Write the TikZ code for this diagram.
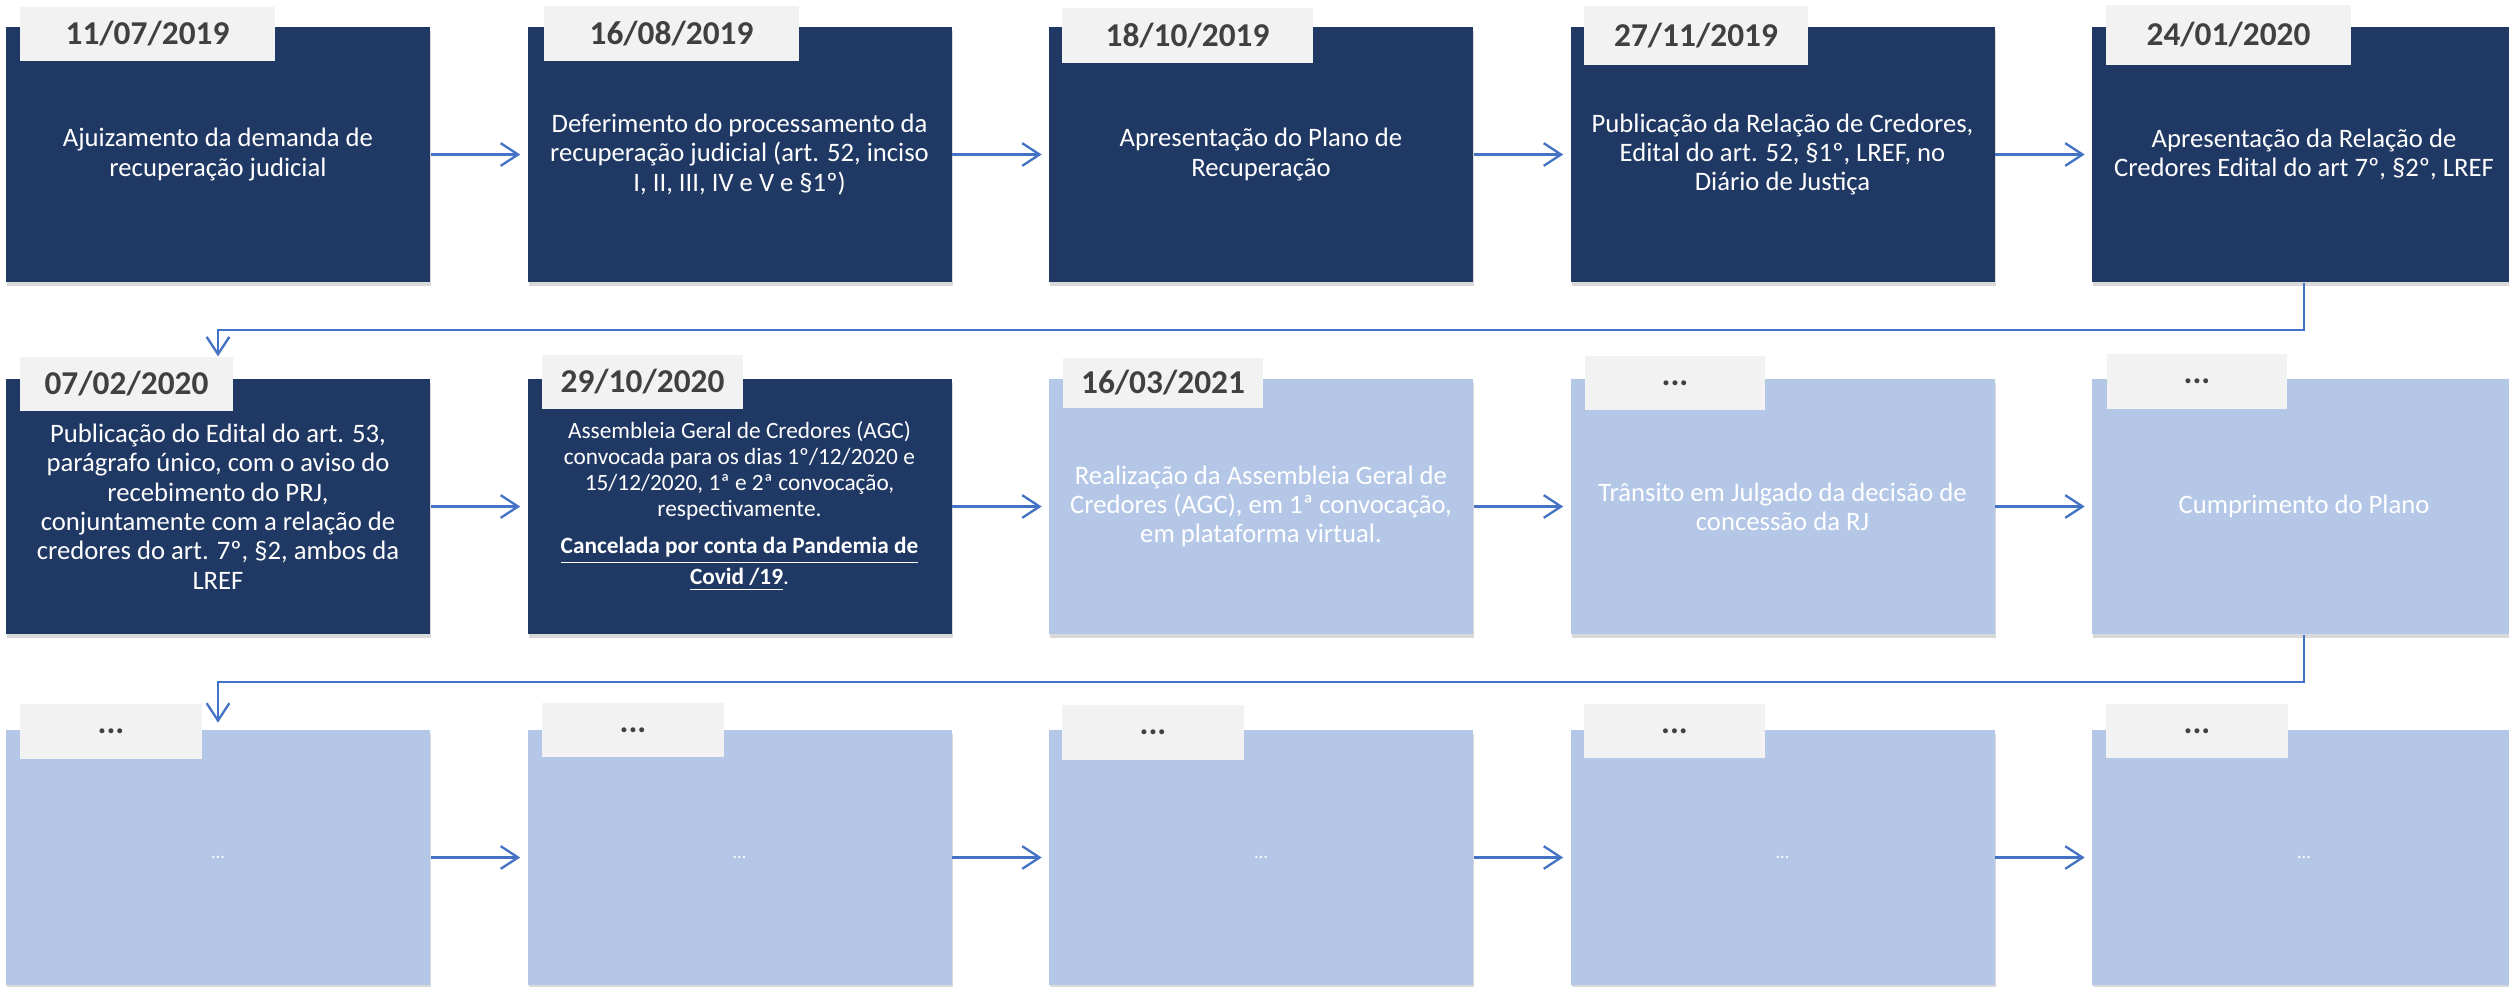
\documentclass[tikz,border=0pt]{standalone}
\usepackage{fontspec}
\setmainfont{Carlito}
\usetikzlibrary{arrows.meta,shadows}
\definecolor{navy}{HTML}{203864}
\definecolor{lightb}{HTML}{B4C7E7}
\definecolor{tabgray}{HTML}{F2F2F2}
\definecolor{tabtext}{HTML}{404040}
\definecolor{flowc}{HTML}{4472C4}
\tikzset{
  card/.style={rectangle, inner sep=0pt, minimum width=127.2pt, minimum height=76.5pt,
     align=center, text=white, font=\fontsize{8pt}{8.8pt}\selectfont,
     drop shadow={opacity=0.3, shadow xshift=0.4pt, shadow yshift=-1.3pt}},
  darkcard/.style={card, fill=navy},
  lightcard/.style={card, fill=lightb},
  dotcard/.style={lightcard, font=\fontsize{5.5pt}{6pt}\selectfont},
  datetab/.style={rectangle, inner sep=0pt, fill=tabgray, text=tabtext,
     font=\fontsize{10pt}{12pt}\selectfont\bfseries, minimum height=16.3pt},
  flow/.style={draw=flowc, line width=0.75pt, -{Straight Barb[length=5.2pt, width=6.8pt, line width=0.7pt]}}
}
\begin{document}
\begin{tikzpicture}[x=0.3pt, y=-0.3pt]
\useasboundingbox (0,0) rectangle (2509,986);
% ---- row 1
\node[darkcard] (r1c1) at (218,154.5) {Ajuizamento da demanda de\\recuperação judicial};
\node[darkcard] (r1c2) at (739.5,154.5) {Deferimento do processamento da\\recuperação judicial (art. 52, inciso\\I, II, III, IV e V e §1º)};
\node[darkcard] (r1c3) at (1261,154.5) {Apresentação do Plano de\\Recuperação};
\node[darkcard] (r1c4) at (1782.5,154.5) {Publicação da Relação de Credores,\\Edital do art. 52, §1º, LREF, no\\Diário de Justiça};
\node[darkcard] (r1c5) at (2304,154.5) {Apresentação da Relação de\\Credores Edital do art 7º, §2º, LREF};
% ---- row 2
\node[darkcard] (r2c1) at (218,506.5) {Publicação do Edital do art. 53,\\parágrafo único, com o aviso do\\recebimento do PRJ,\\conjuntamente com a relação de\\credores do art. 7º, §2, ambos da\\LREF};
\node[darkcard, font=\fontsize{7pt}{7.8pt}\selectfont] (r2c2) at (739.5,506.5) {Assembleia Geral de Credores (AGC)\\convocada para os dias 1º/12/2020 e\\15/12/2020, 1ª e 2ª convocação,\\respectivamente.\\[3.5pt]\underline{\textbf{Cancelada por conta da Pandemia de}}\\\underline{\textbf{Covid /19}}.};
\node[lightcard] (r2c3) at (1261,506.5) {Realização da Assembleia Geral de\\Credores (AGC), em 1ª convocação,\\em plataforma virtual.};
\node[lightcard] (r2c4) at (1782.5,506.5) {Trânsito em Julgado da decisão de\\concessão da RJ};
\node[lightcard] (r2c5) at (2304,506.5) {Cumprimento do Plano};
% ---- row 3
\node[dotcard] (r3c1) at (218,857.5) {...};
\node[dotcard] (r3c2) at (739.5,857.5) {...};
\node[dotcard] (r3c3) at (1261,857.5) {...};
\node[dotcard] (r3c4) at (1782.5,857.5) {...};
\node[dotcard] (r3c5) at (2304,857.5) {...};
% ---- tabs
\node[datetab, minimum width=76.5pt] (t11) at (147.5,34) {11/07/2019};
\node[datetab, minimum width=76.5pt] (t12) at (671.5,33.5) {16/08/2019};
\node[datetab, minimum width=75.3pt] (t13) at (1187.5,35.5) {18/10/2019};
\node[datetab, minimum width=67.2pt, minimum height=17.7pt] (t14) at (1696,35.5) {27/11/2019};
\node[datetab, minimum width=73.5pt, minimum height=18pt] (t15) at (2228.5,35) {24/01/2020};
\node[datetab, minimum width=63.9pt] (t21) at (126.5,384) {07/02/2020};
\node[datetab, minimum width=60.3pt] (t22) at (642.5,382) {29/10/2020};
\node[datetab, minimum width=60pt, minimum height=15pt] (t23) at (1163,383) {16/03/2021};
\node[datetab, minimum width=54pt] (t24) at (1675,383) {...};
\node[datetab, minimum width=54pt] (t25) at (2197,381.5) {...};
\node[datetab, minimum width=54.6pt] (t31) at (111,731.5) {...};
\node[datetab, minimum width=54.6pt] (t32) at (633,730) {...};
\node[datetab, minimum width=54.6pt] (t33) at (1153,732.5) {...};
\node[datetab, minimum width=54.3pt] (t34) at (1674.5,731) {...};
\node[datetab, minimum width=54.6pt] (t35) at (2197,731) {...};
% ---- horizontal flow arrows
\foreach \r in {1,2,3}{
  \draw[flow, shorten >=2pt] (r\r c1.east) -- (r\r c2.west);
  \draw[flow, shorten >=2pt] (r\r c2.east) -- (r\r c3.west);
  \draw[flow, shorten >=2pt] (r\r c3.east) -- (r\r c4.west);
  \draw[flow, shorten >=2pt] (r\r c4.east) -- (r\r c5.west);
}
% ---- row-to-row connectors
\coordinate (k1) at (218,330);
\coordinate (k2) at (218,682);
\draw[flow, shorten >=6.6pt] (r1c5.south) |- (k1) -- (r2c1.north);
\draw[flow, shorten >=2pt] (r2c5.south) |- (k2) -- (r3c1.north);
\end{tikzpicture}
\end{document}
